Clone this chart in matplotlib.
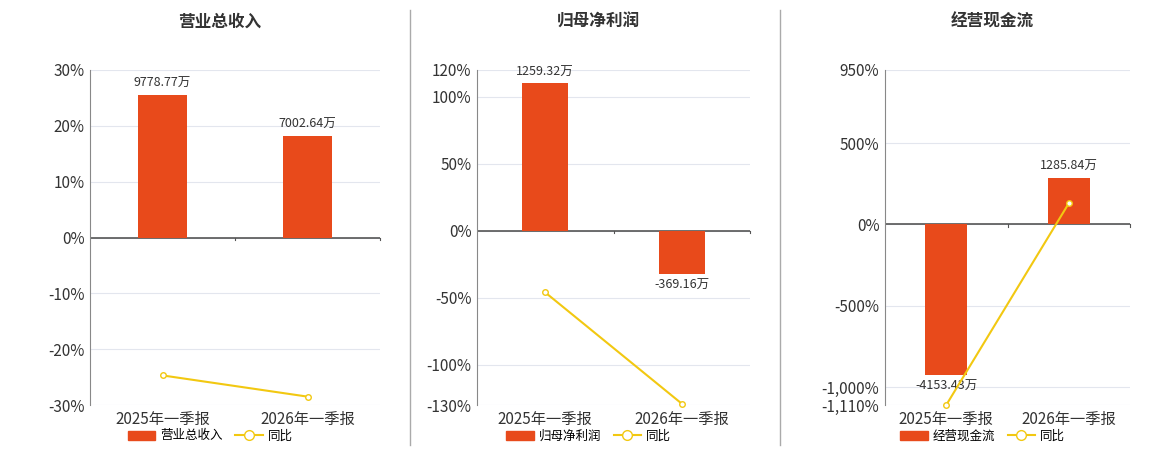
import matplotlib
matplotlib.use("Agg")
import matplotlib.pyplot as plt
from matplotlib.ticker import FuncFormatter
from matplotlib.lines import Line2D
from matplotlib.patches import FancyBboxPatch, Rectangle

plt.rcParams['font.family'] = ['Noto Sans CJK SC', 'DejaVu Sans']

categories = ["2025年一季报", "2026年一季报"]
titles = ["营业总收入", "归母净利润", "经营现金流"]
legend_names = ["营业总收入", "归母净利润", "经营现金流"]
bar_values = [[9778.77, 7002.64], [1259.32, -369.16], [-4153.43, 1285.84]]
bar_labels = [["9778.77万", "7002.64万"], ["1259.32万", "-369.16万"], ["-4153.43万", "1285.84万"]]
yoy_values = [[-24.7, -28.5], [-46.0, -129.0], [-1110.0, 130.0]]
y_limits = [(-30, 30), (-130, 120), (-1110, 950)]
y_ticks = [[-30, -20, -10, 0, 10, 20, 30], [-130, -100, -50, 0, 50, 100, 120], [-1110, -1000, -500, 0, 500, 950]]
bar_scale = [383.5, 11.45, 4.5]  # 万 per % unit

BAR = "#e84a1b"
LINE = "#f2c811"

fig = plt.figure(figsize=(11.6, 4.5), dpi=100)
W, H = 1160, 450
axes_px = [(90, 380), (477, 750), (885, 1130)]
top, bot = 70, 405
for i in range(3):
    x0, x1 = axes_px[i]
    ax = fig.add_axes([x0 / W, 1 - bot / H, (x1 - x0) / W, (bot - top) / H])
    lo, hi = y_limits[i]
    ax.set_ylim(lo, hi)
    ax.set_xlim(-0.5, 1.5)
    ax.set_yticks(y_ticks[i])
    ax.yaxis.set_major_formatter(FuncFormatter(lambda v, p: f"{int(v):,}%"))
    ax.grid(axis='y', color='#e3e6ee', lw=0.8)
    ax.set_axisbelow(True)
    for s in ['top', 'right', 'bottom']:
        ax.spines[s].set_visible(False)
    ax.spines['left'].set_color('#888')
    ax.axhline(0, color='#555', lw=1.2)
    ax.tick_params(axis='y', labelsize=11, colors='#333', length=0, pad=4)
    ax.set_xticks([0, 1])
    ax.set_xticklabels(categories, fontsize=11, color='#333')
    ax.tick_params(axis='x', length=0, pad=4)
    for xt in [0.5, 1.5]:
        ax.plot([xt, xt], [0, -(hi - lo) * 0.008], color='#555', lw=0.8, clip_on=False)
    # bars in % coordinates via scale
    bar_pct = [v / bar_scale[i] for v in bar_values[i]]
    ax.bar([0, 1], bar_pct, width=0.34, color=BAR, zorder=3)
    for j, v in enumerate(bar_pct):
        off = (hi - lo) * 0.015
        if v >= 0:
            ax.text(j, v + off, bar_labels[i][j], ha='center', va='bottom', fontsize=9, color='#333')
        else:
            ax.text(j, v - off, bar_labels[i][j], ha='center', va='top', fontsize=9, color='#333')
    ax.plot([0, 1], yoy_values[i], color=LINE, lw=1.5, marker='o', ms=4,
            markerfacecolor='white', markeredgecolor=LINE, zorder=4, clip_on=False)
    fig.text(((x0 + x1) / 2 - 15) / W, 1 - 22 / H, titles[i], ha='center', va='center',
             fontsize=12, fontweight='bold', color='#333')
    # legend
    handles = [Rectangle((0, 0), 1, 1, color=BAR),
               Line2D([0], [0], color=LINE, lw=1.5, marker='o', ms=7, markerfacecolor='white')]
    fig.legend(handles, [legend_names[i], "同比"], loc='center',
               bbox_to_anchor=(((x0 + x1) / 2 - 25) / W, 1 - 436 / H), ncol=2, frameon=False,
               fontsize=9, handlelength=2.2, columnspacing=1.0, handletextpad=0.4)

for xs in [410, 780]:
    fig.add_artist(Line2D([xs / W, xs / W], [1 - 445 / H, 1 - 10 / H], color='#aaa', lw=1))

fig.savefig("out.png", dpi=100)
